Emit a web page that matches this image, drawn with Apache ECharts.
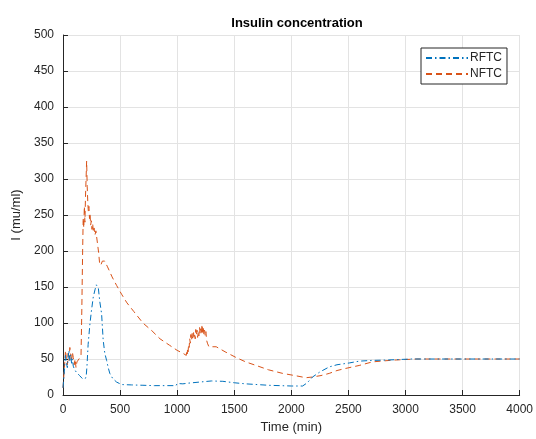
<!DOCTYPE html>
<html>
<head>
<meta charset="utf-8">
<title>Insulin concentration</title>
<script src="https://cdn.jsdelivr.net/npm/echarts@6/dist/echarts.min.js"></script>
<style>
  html, body { margin: 0; padding: 0; background: #ffffff; }
  #chart { width: 536px; height: 439px; }
</style>
</head>
<body>
<div id="chart"></div>
<script>
// Time axis ticks (min) and concentration ticks (mu/ml)
const xTicks = [0, 500, 1000, 1500, 2000, 2500, 3000, 3500, 4000];
const yTicks = [0, 50, 100, 150, 200, 250, 300, 350, 400, 450, 500];

// RFTC insulin trace: [time (min), I (mu/ml)]
const rftcData = [
  [0, 10], [8, 25], [15, 42], [22, 55], [30, 45], [38, 38], [45, 52], [52, 62],
  [60, 48], [68, 56], [75, 44], [82, 50], [90, 40], [100, 36], [115, 32], [130, 30],
  [145, 27], [160, 25], [175, 22], [192, 21], [202, 24], [210, 40], [220, 70],
  [236, 99], [250, 118], [265, 136], [280, 146], [292, 153], [300, 155], [310, 148],
  [322, 130], [338, 113], [352, 76], [366, 58], [382, 48], [396, 38], [410, 30],
  [435, 23], [469, 18], [513, 14.5], [600, 14], [700, 13.5], [800, 13], [900, 13],
  [990, 13], [1000, 16], [1050, 15.5], [1100, 16.5], [1200, 18], [1300, 19.5],
  [1400, 19], [1500, 17], [1600, 15.5], [1700, 14.5], [1800, 13.5], [1900, 13],
  [2000, 12.5], [2099, 12.5], [2140, 17], [2186, 25], [2250, 32], [2332, 39],
  [2400, 42], [2507, 44.5], [2594, 47], [2700, 48], [2827, 48.5], [2950, 49.3],
  [3050, 50], [4000, 50]
];

// NFTC insulin trace: [time (min), I (mu/ml)]
const nftcData = [
  [0, 10], [8, 28], [15, 45], [22, 62], [30, 50], [38, 42], [45, 58], [52, 48],
  [60, 66], [68, 55], [75, 46], [82, 60], [90, 52], [98, 42], [106, 50], [114, 38],
  [122, 46], [130, 44], [140, 50], [150, 48], [158, 55], [165, 120], [172, 200],
  [177, 246], [182, 232], [187, 262], [192, 240], [197, 275], [202, 300], [207, 325],
  [212, 290], [217, 268], [222, 255], [227, 262], [232, 245], [237, 252], [242, 236],
  [248, 242], [254, 230], [260, 238], [266, 226], [272, 232], [280, 222], [288, 228],
  [296, 218], [304, 208], [312, 198], [320, 184], [330, 180], [345, 186], [365, 186],
  [390, 178], [430, 164], [470, 152], [513, 140], [560, 128], [620, 116], [700, 100],
  [780, 89], [850, 78], [934, 69], [1000, 62], [1050, 58], [1080, 55],
  [1084, 62], [1088, 57], [1092, 65], [1096, 60], [1100, 70], [1105, 66], [1110, 78],
  [1115, 72], [1120, 84], [1126, 76], [1131, 86], [1136, 79], [1142, 89], [1147, 81],
  [1152, 86], [1158, 78], [1163, 91], [1168, 83], [1174, 90], [1179, 80], [1185, 88],
  [1190, 82], [1196, 94], [1201, 85], [1207, 92], [1212, 84], [1218, 98], [1223, 87],
  [1229, 93], [1234, 84], [1240, 90], [1246, 82], [1252, 88], [1258, 76], [1265, 72],
  [1272, 70], [1278, 67], [1342, 67], [1420, 60], [1517, 52], [1600, 46], [1692, 41],
  [1800, 35], [1924, 30], [2030, 27], [2128, 24], [2186, 25], [2260, 27], [2332, 30],
  [2400, 34], [2478, 37], [2594, 41], [2710, 46], [2820, 47.5], [2900, 48.5],
  [3002, 49.3], [3100, 50], [3200, 50], [4000, 50]
];

const FONT = 'Liberation Sans, Arial, Helvetica, sans-serif';
const TEXT = '#262626';

const chart = echarts.init(document.getElementById('chart'), null, { renderer: 'canvas' });

const axisCommon = {
  axisLine: { show: true, lineStyle: { color: TEXT, width: 1 } },
  axisTick: { show: true, inside: true, length: 5, lineStyle: { color: TEXT } },
  axisLabel: {
    color: TEXT, fontSize: 12, fontFamily: FONT, margin: 9,
    formatter: (v) => String(v)
  },
  splitLine: { show: true, lineStyle: { color: '#e3e3e3', width: 1 } },
  nameTextStyle: { color: TEXT, fontSize: 13, fontFamily: FONT }
};

chart.setOption({
  animation: false,
  backgroundColor: '#ffffff',
  title: {
    text: 'Insulin concentration',
    left: 292, top: 12, textAlign: 'center',
    textStyle: { fontSize: 13, fontWeight: 'bold', color: '#000000', fontFamily: FONT }
  },
  grid: { left: 63, right: 15, top: 35, bottom: 44, containLabel: false },
  legend: {
    orient: 'vertical',
    left: 421, top: 48,
    padding: [4, 5, 4, 4],
    itemGap: 4,
    itemWidth: 42, itemHeight: 14,
    backgroundColor: '#ffffff',
    borderColor: '#262626', borderWidth: 1, borderRadius: 0,
    itemStyle: { opacity: 0 },
    textStyle: { fontSize: 12, color: TEXT, fontFamily: FONT, padding: [0, 0, 0, -3] },
    data: ['RFTC', 'NFTC']
  },
  xAxis: Object.assign({}, axisCommon, {
    type: 'value',
    min: xTicks[0], max: xTicks[xTicks.length - 1],
    interval: xTicks[1] - xTicks[0],
    name: 'Time (min)', nameLocation: 'middle', nameGap: 25
  }),
  yAxis: Object.assign({}, axisCommon, {
    type: 'value',
    min: yTicks[0], max: yTicks[yTicks.length - 1],
    interval: yTicks[1] - yTicks[0],
    name: 'I (mu/ml)', nameLocation: 'middle', nameGap: 36
  }),
  series: [
    {
      name: 'RFTC', type: 'line', data: rftcData,
      showSymbol: false, symbol: 'none',
      lineStyle: { color: '#0072BD', width: 1, type: [6, 3, 1.5, 3] },
      itemStyle: { color: '#0072BD' },
      z: 3
    },
    {
      name: 'NFTC', type: 'line', data: nftcData,
      showSymbol: false, symbol: 'none',
      lineStyle: { color: '#D95319', width: 1, type: [6, 4] },
      itemStyle: { color: '#D95319' },
      z: 2
    }
  ]
});
</script>
</body>
</html>
